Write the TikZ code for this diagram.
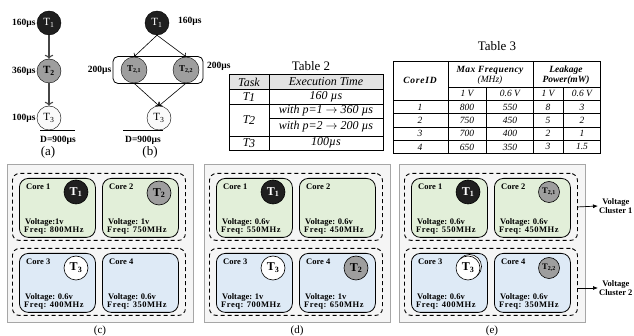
\documentclass[tikz,border=0pt]{standalone}
\usepackage{fontspec}
\setmainfont{Liberation Serif}
\usetikzlibrary{arrows.meta}

\definecolor{coregreen}{RGB}{226,239,217}
\definecolor{coreblue}{RGB}{222,234,246}
\definecolor{taskgray}{RGB}{158,158,158}

\tikzset{
  task/.style={circle, draw, inner sep=0pt, minimum size=24pt, font=\fontsize{11}{11}\selectfont},
  tdark/.style={task, fill=black!88, text=white},
  tmid/.style={task, fill=taskgray},
  tlight/.style={task, fill=gray!4},
  gedge/.style={->, draw=gray!55!black, line width=1.1pt},
  bedge/.style={->, line width=0.6pt},
  lbl/.style={font=\fontsize{9.5}{10}\selectfont\bfseries, inner sep=1pt},
  capt/.style={font=\fontsize{13}{14}\selectfont, inner sep=0pt},
  tab/.style={font=\fontsize{12}{12}\selectfont\itshape, inner sep=0pt},
  tabsm/.style={font=\fontsize{9.5}{10}\selectfont\itshape, inner sep=0pt},
  tabhd/.style={font=\fontsize{9.5}{10}\selectfont\bfseries\itshape, inner sep=0pt},
  panel/.style={draw=gray!70, fill=gray!8, line width=0.8pt},
  cluster/.style={draw, dashed, dash pattern=on 4pt off 3pt, line width=0.9pt, rounded corners=7pt,
    minimum width=173pt, minimum height=67pt, inner sep=0pt},
  core/.style={draw, line width=0.8pt, rounded corners=9pt, minimum width=76pt, minimum height=59pt, inner sep=0pt},
  corelbl/.style={font=\fontsize{8.5}{8.5}\selectfont\bfseries, inner sep=0pt},
  ctask/.style={circle, draw, line width=0.6pt, inner sep=0pt, minimum size=24pt, font=\fontsize{12}{12}\selectfont\bfseries},
  csmall/.style={ctask, minimum size=21pt, font=\fontsize{8.5}{9}\selectfont\bfseries},
  vclbl/.style={font=\fontsize{8.5}{9.5}\selectfont\bfseries, align=center, inner sep=1pt}
}

\begin{document}
\begin{tikzpicture}[x=1pt,y=-1pt]
\useasboundingbox (0,0) rectangle (634,336);

% task graph (a)
\node[tdark] (a1) at (49,23) {T\textsubscript{1}};
\node[tmid, font=\fontsize{11}{11}\selectfont\bfseries] (a2) at (49,71) {T\textsubscript{2}};
\node[tlight] (a3) at (49,118) {T\textsubscript{3}};
\node[lbl, anchor=east] (a1t) at (a1.west) {160µs};
\node[lbl, anchor=east] (a2t) at (a2.west) {360µs};
\node[lbl, anchor=east] (a3t) at (a3.west) {100µs};
\draw[gedge] (a1) -- (a2);
\draw[gedge] (a2) -- (a3);
\draw[line width=0.8pt] ([xshift=-9pt]a3.south) -- ++(35,0);
\node[lbl] (adl) at (58,140) {D=900µs};
\node[capt] (capa) at (48,152) {(a)};

% task graph (b)
\node[draw, line width=0.8pt, rounded corners=5pt, minimum width=90pt, minimum height=27pt] (b2) at (158,70) {};
\node[tdark] (b1) at (157,23) {T\textsubscript{1}};
\node[tmid, minimum size=26pt, font=\fontsize{9}{9}\selectfont\bfseries] (b21) at (134,70) {T\textsubscript{2,1}};
\node[tmid, minimum size=26pt, font=\fontsize{9}{9}\selectfont\bfseries] (b22) at (186,70) {T\textsubscript{2,2}};
\node[tlight] (b3) at (159,118) {T\textsubscript{3}};
\node[lbl, anchor=west] (b1t) at (177,21) {160µs};
\node[lbl, anchor=east] (b2l) at (b2.west) {200µs};
\node[lbl, anchor=west] (b2r) at (206,66) {200µs};
\draw[bedge] (b1.south) -- (b21.north);
\draw[bedge] (b1.south) -- (b22.north);
\draw[bedge] (b21.south) -- (b3.north);
\draw[bedge] (b22.south) -- (b3.north);
\draw[line width=0.8pt] ([xshift=-36pt]b3.south) -- ([xshift=4pt]b3.south);
\node[lbl] (bdl) at (143,140) {D=900µs};
\node[capt] (capb) at (150,152) {(b)};

% Table 2
\node[capt] (tab2) at (311,66) {Table 2};
\fill[gray!22] (229,74) rectangle (383,89);
\draw[line width=0.9pt] (229,74) rectangle (383,150);
\draw[line width=0.9pt] (269,74) -- (269,150);
\foreach \y in {89,104,136}
  \draw[line width=0.9pt] (229,\y) -- (383,\y);
\draw[line width=0.9pt] (269,118) -- (383,118);
\node[tab] (t2h1) at (249,82) {Task};
\node[tab] (t2h2) at (326,82) {Execution Time};
\node[tab] (t2a) at (249,97) {T\kern-0.5pt\raisebox{-0.3ex}{1}};
\node[tab] (t2b) at (249,120) {T\kern-0.5pt\raisebox{-0.3ex}{2}};
\node[tab] (t2c) at (249,143) {T\kern-0.5pt\raisebox{-0.3ex}{3}};
\node[tab] (t2a2) at (326,97) {160 µs};
\node[tab] (t2b2) at (326,111) {with p=1 $\rightarrow$ 360 µs};
\node[tab] (t2b3) at (326,127) {with p=2 $\rightarrow$ 200 µs};
\node[tab] (t2c2) at (326,143) {100µs};

% Table 3
\node[capt] (tab3) at (497,46) {Table 3};
\draw[line width=0.9pt] (393,61) rectangle (600,153);
\draw[line width=0.9pt] (448,61) -- (448,153);
\draw[line width=0.9pt] (533,61) -- (533,153);
\draw[line width=0.9pt] (486,87) -- (486,153);
\draw[line width=0.9pt] (563,87) -- (563,153);
\draw[line width=0.9pt] (448,87) -- (600,87);
\foreach \y in {100,113,127,140}
  \draw[line width=0.9pt] (393,\y) -- (600,\y);
\node[tabhd] (t3h0) at (420,80) {\addfontfeature{LetterSpace=8}CoreID};
\node[tabhd] (t3h1) at (490,70) {\addfontfeature{LetterSpace=4}Max Frequency};
\node[tabsm] (t3h1b) at (490,80) {(MHz)};
\node[tabhd] (t3h2) at (566,70) {Leakage};
\node[tabhd] (t3h2b) at (566,80) {Power(mW)};
\node[tabsm] (t3v1) at (467,93.5) {1 V};
\node[tabsm] (t3v2) at (510,93.5) {0.6 V};
\node[tabsm] (t3v3) at (548,93.5) {1 V};
\node[tabsm] (t3v4) at (582,93.5) {0.6 V};
\foreach \id/\fa/\fb/\pa/\pb [count=\i] in {1/800/550/8/3, 2/750/450/5/2, 3/700/400/2/1, 4/650/350/3/1.5}{
  \node[tabsm] (r\i id) at (420,{93.7+13.3*\i}) {\id};
  \node[tabsm] (r\i fa) at (467,{93.7+13.3*\i}) {\fa};
  \node[tabsm] (r\i fb) at (510,{93.7+13.3*\i}) {\fb};
  \node[tabsm] (r\i pa) at (548,{93.7+13.3*\i}) {\pa};
  \node[tabsm] (r\i pb) at (582,{93.7+13.3*\i}) {\pb};
}

% mappings (c), (d), (e)
\foreach \p/\off in {c/0, d/197, e/392}{
  \draw[panel] ({7+\off},164) rectangle ({193+\off},322);
  \node[cluster, anchor=north west] (\p vc1) at ({12+\off},173) {};
  \node[cluster, anchor=north west] (\p vc2) at ({12+\off},248) {};
  \node[capt, font=\fontsize{11}{11}\selectfont] (cap\p) at ({100+\off},331) {(\p)};
}

\foreach \nm/\x/\y/\clr/\n/\volt/\freq in {
  c1/19/178/coregreen/1/{Voltage:1v}/{Freq: 800MHz},
  c2/102/178/coregreen/2/{Voltage: 1v}/{Freq: 750MHz},
  c3/19/253/coreblue/3/{Voltage: 0.6v}/{Freq: 400MHz},
  c4/102/253/coreblue/4/{Voltage: 0.6v}/{Freq: 350MHz},
  d1/216/178/coregreen/1/{Voltage: 0.6v}/{Freq: 550MHz},
  d2/299/178/coregreen/2/{Voltage: 0.6v}/{Freq: 450MHz},
  d3/216/253/coreblue/3/{Voltage: 1v}/{Freq: 700MHz},
  d4/299/253/coreblue/4/{Voltage: 1v}/{Freq: 650MHz},
  e1/411/178/coregreen/1/{Voltage: 0.6v}/{Freq: 550MHz},
  e2/494/178/coregreen/2/{Voltage: 0.6v}/{Freq: 450MHz},
  e3/411/253/coreblue/3/{Voltage: 0.6v}/{Freq: 400MHz},
  e4/494/253/coreblue/4/{Voltage: 0.6v}/{Freq: 350MHz}}{
  \node[core, fill=\clr, anchor=north west] (\nm) at (\x,\y) {};
  \node[corelbl, anchor=west] (\nm n) at ([shift={(7,9)}]\nm.north west) {Core \n};
  \node[corelbl, anchor=west] (\nm v) at ([shift={(6,44)}]\nm.north west) {\volt};
  \node[corelbl, anchor=west] (\nm f) at ([shift={(5,53)}]\nm.north west) {\addfontfeature{LetterSpace=6}\freq};
}

% tasks placed on cores
\node[ctask, fill=black!88, text=white] (c1t) at ([shift={(57,14)}]c1.north west) {T\textsubscript{1}};
\node[ctask, fill=taskgray] (c2t) at ([shift={(57,15)}]c2.north west) {T\textsubscript{2}};
\node[ctask, fill=white] (c3t) at ([shift={(57,15)}]c3.north west) {T\textsubscript{3}};
\node[ctask, fill=black!88, text=white] (d1t) at ([shift={(57,14)}]d1.north west) {T\textsubscript{1}};
\node[ctask, fill=white] (d3t) at ([shift={(57,15)}]d3.north west) {T\textsubscript{3}};
\node[ctask, fill=taskgray] (d4t) at ([shift={(57,15)}]d4.north west) {T\textsubscript{2}};
\node[ctask, fill=black!88, text=white] (e1t) at ([shift={(57,14)}]e1.north west) {T\textsubscript{1}};
\node[csmall, fill=taskgray] (e2t) at ([shift={(55,14)}]e2.north west) {T\textsubscript{2,1}};
\draw[line width=0.6pt, fill=white] ([shift={(58.5,13.5)}]e3.north west) circle (12pt);
\node[ctask, fill=white] (e3t) at ([shift={(57,15)}]e3.north west) {T\textsubscript{3}};
\node[csmall, fill=taskgray] (e4t) at ([shift={(55,15)}]e4.north west) {T\textsubscript{2,2}};

% voltage clusters
\node[vclbl, anchor=west] (vc1) at (598,206) {Voltage\\Cluster 1};
\node[vclbl, anchor=west] (vc2) at (598,288) {Voltage\\Cluster 2};
\draw[-{Latex[length=5pt,width=4pt]}, line width=0.7pt] (evc1.east) -- (vc1.west);
\draw[-{Latex[length=5pt,width=4pt]}, line width=0.7pt] (evc2.east |- vc2.west) -- (vc2.west);
\end{tikzpicture}
\end{document}
